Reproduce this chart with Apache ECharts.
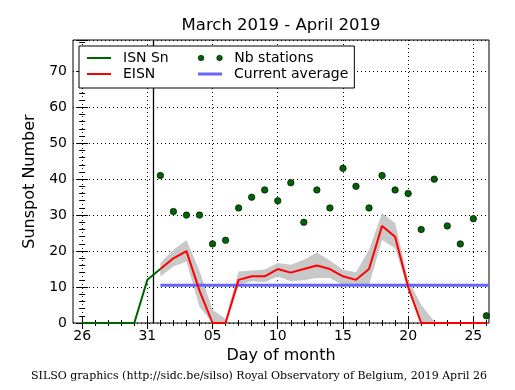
<!DOCTYPE html>
<html>
<head>
<meta charset="utf-8">
<script src="https://cdn.jsdelivr.net/npm/echarts@6/dist/echarts.min.js"></script>
<style>
html,body{margin:0;padding:0;background:#fff;}
#chart{width:515px;height:390px;}
</style>
</head>
<body>
<div id="chart"></div>
<script>
// Day offsets: 0 = March 26, 2019 ... 31 = April 26, 2019
const isnDays = [0, 1, 2, 3, 4, 5, 6];
const isnSn   = [0, 0, 0, 0, 0, 12, 15];

const eisnDays = [6,7,8,9,10,11,12,13,14,15,16,17,18,19,20,21,22,23,24,25,26,27,28,29,30,31];
const eisn     = [15,18,20,9,0,0,12,13,13,15,14,15,16,15,13,12,15,27,24,10,0,0,0,0,0,0];
const bandLow  = [12.9,15.7,17.1,4.5,0,0,10.6,11.6,11.3,12.9,11.6,11.9,12.5,12.5,10.6,10.6,10.6,23.1,20.8,9.3,0,0,0,0,0,0];
const bandHigh = [16.7,20.4,23.1,14.5,3.7,1.2,14.3,14.6,14.9,16.7,16.2,17.6,19.6,17.4,14.8,14.1,20.4,30.5,27.8,12.0,5.1,0.5,0,0,0,0];
const nbStations = [41,31,30,30,22,23,32,35,37,34,39,28,37,32,43,38,32,41,37,36,26,40,27,22,29,2];

const currentAverage = 10.5;
const averageStartDay = 6;
const monthBoundaryDay = 5.45;

const tickDays   = [0, 5, 10, 15, 20, 25, 30];
const tickLabels = ['26', '31', '05', '10', '15', '20', '25'];
const allDays = Array.from({length: 32}, (_, i) => i);

const xMin = -0.7, xMax = 31.2, yMax = 78.7;
const yMinorTicks = [];
for (let v = 2; v < yMax; v += 2) { if (v % 10 !== 0) yMinorTicks.push(v); }

const FONT = 'DejaVu Sans';
const gridRect = {left: 73, right: 26, top: 40, bottom: 67};

const chart = echarts.init(document.getElementById('chart'), null, {renderer: 'canvas'});

const majorX = (pos, withLabels) => ({
  gridIndex: 0, type: 'value', min: xMin, max: xMax, position: pos,
  axisLine: {show: false},
  axisTick: {show: true, inside: true, length: 6, customValues: tickDays, lineStyle: {color: '#000', width: 1}},
  axisLabel: withLabels ? {
    show: true, customValues: tickDays, color: '#000', fontFamily: FONT, fontSize: 14, margin: 6,
    formatter: v => { const i = tickDays.indexOf(v); return i >= 0 ? tickLabels[i] : ''; }
  } : {show: false},
  splitLine: withLabels ? {show: true, lineStyle: {color: '#000', type: [1, 3], width: 1}} : {show: false},
  name: withLabels ? 'Day of month' : '',
  nameLocation: 'middle', nameGap: 25,
  nameTextStyle: {color: '#000', fontFamily: FONT, fontSize: 16}
});
const minorX = pos => ({
  gridIndex: 1, type: 'value', min: xMin, max: xMax, position: pos,
  axisLine: {show: false},
  axisTick: {show: true, inside: true, length: 3, customValues: allDays, lineStyle: {color: '#000', width: 1}},
  axisLabel: {show: false}, splitLine: {show: false}
});
const majorY = (pos, withLabels) => ({
  gridIndex: 0, type: 'value', min: 0, max: yMax, interval: 10, position: pos,
  axisLine: {show: false},
  axisTick: {show: true, inside: true, length: 6, lineStyle: {color: '#000', width: 1}},
  axisLabel: withLabels ? {
    show: true, color: '#000', fontFamily: FONT, fontSize: 14, margin: 6,
    formatter: v => (Math.abs(v % 10) < 1e-6 ? String(v) : '')
  } : {show: false},
  splitLine: withLabels ? {show: true, lineStyle: {color: '#000', type: [1, 3], width: 1}} : {show: false},
  name: withLabels ? 'Sunspot Number' : '',
  nameLocation: 'middle', nameGap: 34,
  nameTextStyle: {color: '#000', fontFamily: FONT, fontSize: 16}
});
const minorY = pos => ({
  gridIndex: 1, type: 'value', min: 0, max: yMax, position: pos,
  axisLine: {show: false},
  axisTick: {show: true, inside: true, length: 3, customValues: yMinorTicks, lineStyle: {color: '#000', width: 1}},
  axisLabel: {show: false}, splitLine: {show: false}
});

const option = {
  animation: false,
  backgroundColor: '#fff',
  graphic: [
    {type: 'text', x: 281, y: 26, style: {text: 'March 2019 - April 2019', align: 'center', verticalAlign: 'middle', font: '16.5px "DejaVu Sans"', fill: '#000'}},
    {type: 'text', x: 259, y: 376, style: {text: 'SILSO graphics (http://sidc.be/silso) Royal Observatory of Belgium, 2019 April 26', align: 'center', verticalAlign: 'middle', font: '11px "DejaVu Serif"', fill: '#000'}}
  ],
  grid: [
    Object.assign({show: true, borderColor: '#000', borderWidth: 1, backgroundColor: '#fff', containLabel: false}, gridRect),
    Object.assign({show: false, containLabel: false}, gridRect)
  ],
  xAxis: [majorX('bottom', true), majorX('top', false), minorX('bottom'), minorX('top')],
  yAxis: [majorY('left', true), majorY('right', false), minorY('left'), minorY('right')],
  legend: {
    z: 20, zlevel: 0,
    left: 79, top: 46, orient: 'horizontal', width: 262,
    itemGap: 2, itemWidth: 24, itemHeight: 8,
    padding: [5, 6, 7, 8],
    borderColor: '#000', borderWidth: 1, borderRadius: 0, backgroundColor: '#fff',
    selectedMode: false,
    textStyle: {color: '#000', fontFamily: FONT, fontSize: 14, lineHeight: 14, padding: [0, 0, 0, 7]},
    data: [
      {name: 'ISN Sn', icon: 'path://M0,0H24V2H0Z', itemStyle: {color: '#006400', borderWidth: 0}, textStyle: {width: 73}},
      {name: 'Nb stations', icon: 'path://M0,3a3,3 0 1,0 6,0a3,3 0 1,0 -6,0ZM20,3a3,3 0 1,0 6,0a3,3 0 1,0 -6,0Z', itemStyle: {color: '#006400', borderColor: '#000', borderWidth: 0.6, opacity: 1}},
      {name: 'EISN', icon: 'path://M0,0H24V2H0Z', itemStyle: {color: '#ff0000', borderWidth: 0}, textStyle: {width: 73}},
      {name: 'Current average', icon: 'path://M0,0H24V3H0Z', itemStyle: {color: '#6464ff', borderWidth: 0}}
    ]
  },
  series: [
    {
      name: 'EISN range', type: 'custom', xAxisIndex: 0, yAxisIndex: 0, z: 1, silent: true, clip: true,
      data: eisnDays.map((d, i) => [d, bandLow[i], bandHigh[i]]),
      encode: {x: 0, y: [1, 2]},
      renderItem: (params, api) => {
        if (params.dataIndex !== 0) return null;
        const pts = [];
        for (let i = 0; i < eisnDays.length; i++) pts.push(api.coord([eisnDays[i], bandHigh[i]]));
        for (let i = eisnDays.length - 1; i >= 0; i--) pts.push(api.coord([eisnDays[i], bandLow[i]]));
        return {type: 'polygon', shape: {points: pts}, style: {fill: '#c8c8c8', stroke: null}};
      }
    },
    {
      name: 'ISN Sn', type: 'line', xAxisIndex: 0, yAxisIndex: 0, z: 3,
      data: isnDays.map((d, i) => [d, isnSn[i]]),
      symbol: 'none', itemStyle: {color: '#006400'}, lineStyle: {color: '#006400', width: 2},
      markLine: {
        silent: true, symbol: ['none', 'none'], label: {show: false}, z: 3,
        lineStyle: {color: '#000', type: 'solid', width: 1.3},
        data: [{xAxis: monthBoundaryDay}]
      }
    },
    {
      name: 'Current average', type: 'line', xAxisIndex: 0, yAxisIndex: 0, z: 4,
      data: [[averageStartDay, currentAverage], [xMax, currentAverage]],
      symbol: 'none', itemStyle: {color: '#6464ff'}, lineStyle: {color: '#6464ff', width: 3, opacity: 1}
    },
    {
      name: 'EISN', type: 'line', xAxisIndex: 0, yAxisIndex: 0, z: 5,
      data: eisnDays.map((d, i) => [d, eisn[i]]),
      symbol: 'none', itemStyle: {color: '#ff0000'}, lineStyle: {color: '#ff0000', width: 2}
    },
    {
      name: 'Nb stations', type: 'scatter', xAxisIndex: 0, yAxisIndex: 0, z: 6,
      data: eisnDays.map((d, i) => [d, nbStations[i]]),
      symbol: 'circle', symbolSize: 6.5,
      itemStyle: {color: '#006400', borderColor: '#000', borderWidth: 0.6, opacity: 1}
    }
  ]
};
chart.setOption(option);
</script>
</body>
</html>
